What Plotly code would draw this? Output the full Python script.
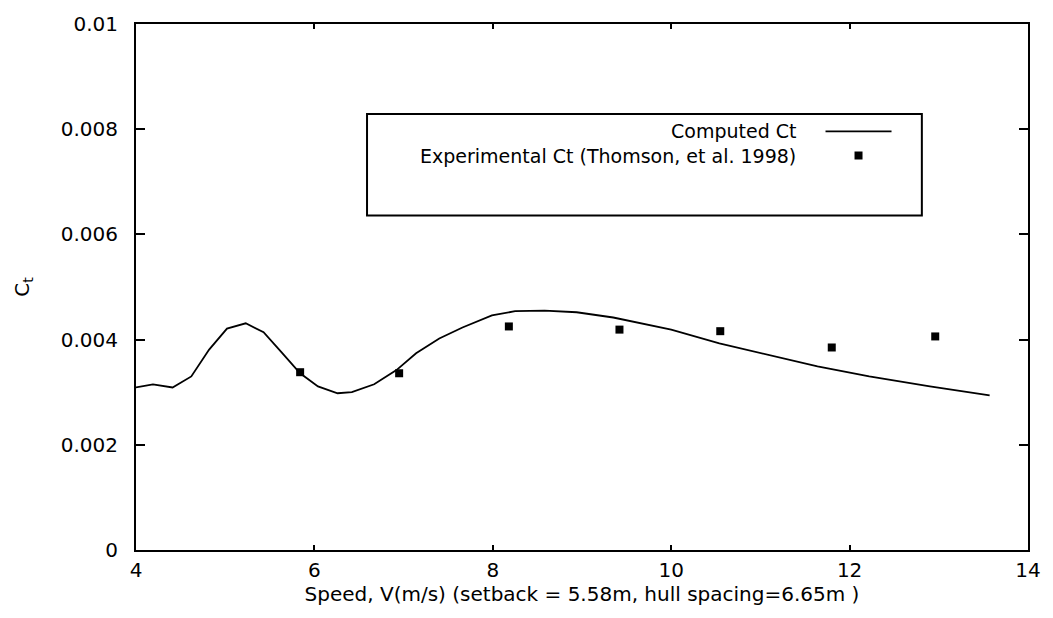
import plotly.graph_objects as go

# Computed total resistance coefficient vs speed
speed_computed = [4.0, 4.19, 4.41, 4.62, 4.82, 5.02, 5.23, 5.43, 5.63, 5.84, 6.04, 6.26,
                  6.42, 6.67, 6.92, 7.14, 7.40, 7.66, 7.99, 8.25, 8.58, 8.94, 9.35, 10.0,
                  10.54, 11.0, 11.64, 12.22, 12.9, 13.57]
ct_computed = [0.00309, 0.00315, 0.00309, 0.00330, 0.00381, 0.00421, 0.00431, 0.00414,
               0.00376, 0.00336, 0.00311, 0.00298, 0.00300, 0.00315, 0.00342, 0.00374,
               0.00402, 0.00423, 0.00446, 0.00454, 0.00455, 0.00452, 0.00442, 0.00419,
               0.00393, 0.00374, 0.00349, 0.00330, 0.00311, 0.00294]

# Experimental values (Thomson, et al. 1998)
speed_exp = [5.84, 6.95, 8.18, 9.42, 10.55, 11.8, 12.96]
ct_exp = [0.00338, 0.00336, 0.00425, 0.00419, 0.00416, 0.00385, 0.00406]

x_ticks = [4, 6, 8, 10, 12, 14]
y_ticks = [0, 0.002, 0.004, 0.006, 0.008, 0.01]
y_tick_text = ["0", "0.002", "0.004", "0.006", "0.008", "0.01"]

legend_labels = ["Computed Ct", "Experimental Ct (Thomson, et al. 1998)"]

FONT = "DejaVu Sans"

fig = go.Figure()
fig.add_trace(go.Scatter(x=speed_computed, y=ct_computed, mode="lines",
                         line=dict(color="black", width=1.8), showlegend=False))
fig.add_trace(go.Scatter(x=speed_exp, y=ct_exp, mode="markers",
                         marker=dict(symbol="square", size=8, color="black"),
                         showlegend=False))

# Key box with text to the left of each sample, gnuplot style
box = dict(x0=0.259, x1=0.881, y0=0.636, y1=0.829)
fig.add_shape(type="rect", xref="paper", yref="paper", line=dict(color="black", width=2),
              fillcolor="white", layer="below", **box)
row_y = [0.796, 0.750]
fig.add_shape(type="line", xref="paper", yref="paper", x0=0.773, x1=0.847,
              y0=row_y[0], y1=row_y[0], line=dict(color="black", width=1.8))
fig.add_trace(go.Scatter(x=[0.810], y=[row_y[1]], xaxis="x2", yaxis="y2", mode="markers",
                         marker=dict(symbol="square", size=8, color="black"),
                         showlegend=False, hoverinfo="skip"))
for label, yy in zip(legend_labels, row_y):
    fig.add_annotation(x=0.742, y=yy, xref="paper", yref="paper", text=label,
                       showarrow=False, xanchor="right", yanchor="middle",
                       font=dict(family=FONT, size=19, color="black"))

axis_common = dict(showline=True, linecolor="black", linewidth=2, mirror="ticks",
                   ticks="inside", tickcolor="black", tickwidth=1.5, showgrid=False,
                   zeroline=False, tickfont=dict(family=FONT, size=20, color="black"))

fig.update_layout(
    width=1053, height=618,
    margin=dict(l=136, r=13, t=23, b=68),
    paper_bgcolor="white", plot_bgcolor="white",
    xaxis=dict(range=[4, 14], tickvals=x_ticks, ticklen=5, ticklabelstandoff=1,
               title=dict(text="Speed, V(m/s) (setback = 5.58m, hull spacing=6.65m )",
                          font=dict(family=FONT, size=20, color="black"), standoff=4),
               **axis_common),
    yaxis=dict(range=[0, 0.01], tickvals=y_ticks, ticktext=y_tick_text, ticklen=9,
               ticklabelstandoff=12,
               title=dict(text="C<sub>t</sub>", font=dict(family=FONT, size=20, color="black"),
                          standoff=26),
               **axis_common),
    xaxis2=dict(range=[0, 1], domain=[0, 1], overlaying="x", visible=False),
    yaxis2=dict(range=[0, 1], domain=[0, 1], overlaying="y", visible=False),
)

fig.write_html("out.html")
